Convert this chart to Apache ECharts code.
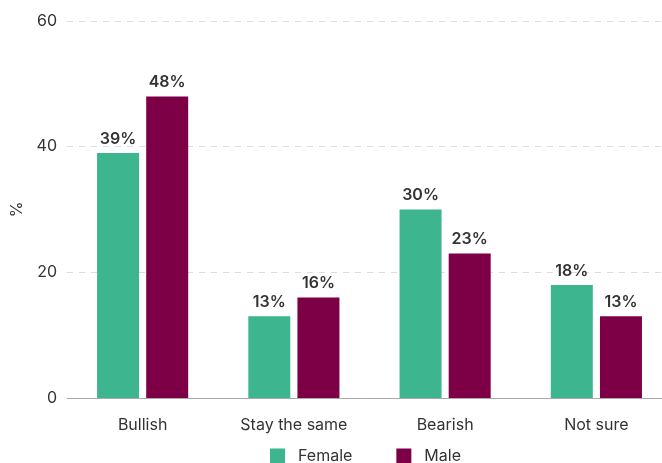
<!DOCTYPE html>
<html>
<head>
<meta charset="utf-8">
<script src="https://cdn.jsdelivr.net/npm/echarts@6/dist/echarts.min.js"></script>
<style>
  html, body { margin: 0; padding: 0; background: #fff; }
  #chart { width: 662px; height: 463px; }
</style>
</head>
<body>
<div id="chart"></div>
<script>
const categories = ['Bullish', 'Stay the same', 'Bearish', 'Not sure']
const female = [39, 13, 30, 18]
const male = [48, 16, 23, 13]
const yTicks = [0, 20, 40, 60]

const chart = echarts.init(document.getElementById('chart'))

const labelStyle = {
  show: true, position: 'top', distance: 6,
  formatter: p => p.value + '%',
  color: '#333', fontWeight: 600, fontSize: 16, fontFamily: 'Inter'
}

chart.setOption({
  textStyle: { fontFamily: 'Inter' },
  grid: { left: 67, right: -10, top: 21, bottom: 65, outerBoundsMode: 'none', containLabel: false },
  legend: {
    top: 443, left: 265,
    itemWidth: 15, itemHeight: 15, itemGap: 44,
    icon: 'rect',
    textStyle: { color: '#333', fontSize: 16, fontFamily: 'Inter', padding: [0, 0, 0, 8] }
  },
  xAxis: {
    type: 'category', data: categories,
    axisTick: { show: false },
    axisLine: { lineStyle: { color: '#aaa' } },
    axisLabel: { color: '#333', fontSize: 16, margin: 19 }
  },
  yAxis: {
    type: 'value', min: yTicks[0], max: yTicks[yTicks.length - 1], interval: 20,
    name: '%', nameLocation: 'middle', nameGap: 41, nameRotate: 90,
    nameTextStyle: { color: '#333', fontSize: 16 },
    axisLabel: { color: '#333', fontSize: 16, margin: 10 },
    splitLine: { lineStyle: { color: '#ddd', type: [6, 6] } }
  },
  series: [
    { name: 'Female', type: 'bar', data: female, barWidth: 42, barGap: '17%',
      itemStyle: { color: '#3db68f' }, label: labelStyle },
    { name: 'Male', type: 'bar', data: male, barWidth: 42,
      itemStyle: { color: '#7d0046' }, label: labelStyle }
  ]
})
</script>
</body>
</html>
